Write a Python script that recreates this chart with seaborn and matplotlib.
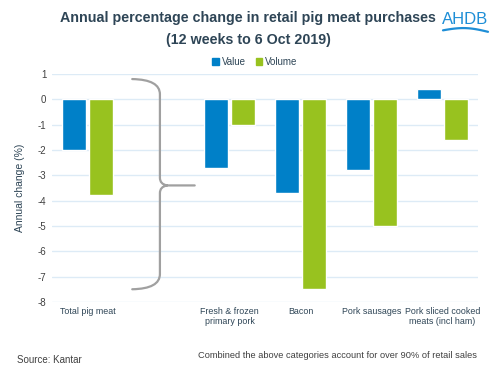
import numpy as np
import pandas as pd
import matplotlib
matplotlib.use("agg")
import matplotlib.pyplot as plt
from matplotlib.path import Path
from matplotlib.patches import PathPatch, Patch
import seaborn as sns

categories = ["Total pig meat", "Fresh & frozen\nprimary pork", "Bacon",
              "Pork sausages", "Pork sliced cooked\nmeats (incl ham)"]
value_change = [-2.0, -2.7, -3.68, -2.78, 0.42]
volume_change = [-3.78, -1.0, -7.5, -5.0, -1.6]
series = ["Value", "Volume"]
yticks = list(range(1, -9, -1))

BLUE = "#0080C8"
GREEN = "#98C21F"
DARK = "#2E4556"
GRID = "#DDEBF6"

df = pd.DataFrame({
    "category": categories * 2,
    "series": [series[0]] * len(categories) + [series[1]] * len(categories),
    "change": value_change + volume_change,
})

sns.set_theme(style="white")
plt.rcParams["font.family"] = ["Liberation Sans", "DejaVu Sans"]

fig = plt.figure(figsize=(5, 3.7), dpi=100)
ax = fig.add_axes([0.104, 0.184, 0.852, 0.616])

# spacer slot between total and the breakdown
order = [categories[0], " "] + categories[1:]
sns.barplot(data=df, x="category", y="change", hue="series", order=order,
            palette=[BLUE, GREEN], width=0.78, gap=0.14, ax=ax, legend=False,
            saturation=1)

ax.set_ylim(-8, 1)
ax.set_xlim(-0.5, len(order) - 0.5)
ax.set_yticks(yticks)
ax.set_yticklabels([str(t) for t in yticks], fontsize=7, color="#404040")
ax.set_xticks(range(len(order)))
ax.set_xticklabels(order, fontsize=6.4, color=DARK, linespacing=1.1)
ax.tick_params(axis="both", length=0, pad=4)
ax.grid(axis="y", color=GRID, linewidth=1)
ax.set_axisbelow(True)
for s in ax.spines.values():
    s.set_visible(False)
ax.set_xlabel("")
ax.set_ylabel("Annual change (%)", fontsize=7.5, color=DARK, labelpad=9)

# curly brace
x0, x1, x2 = 0.63, 1.02, 1.51
top, mid, bot = 0.8, -3.4, -7.5
verts = [(x0, top), (x1, top - 0.02), (x1, top - 0.6),
         (x1, mid + 0.3), (x1, mid + 0.05), (x1 + 0.1, mid), (x2, mid),
         (x1 + 0.1, mid), (x1, mid - 0.05), (x1, mid - 0.3),
         (x1, bot + 0.6), (x1, bot + 0.02), (x0, bot)]
codes = [Path.MOVETO, Path.CURVE3, Path.CURVE3,
         Path.LINETO, Path.CURVE3, Path.CURVE3, Path.LINETO,
         Path.MOVETO, Path.CURVE3, Path.CURVE3,
         Path.LINETO, Path.CURVE3, Path.CURVE3]
ax.add_patch(PathPatch(Path(verts, codes), fill=False, edgecolor="#A0A0A0",
                       linewidth=1.6, capstyle="round", joinstyle="round"))

# legend
handles = [Patch(color=BLUE, label=series[0]), Patch(color=GREEN, label=series[1])]
fig.legend(handles=handles, loc="center", bbox_to_anchor=(0.51, 0.832), ncol=2,
           frameon=False, fontsize=7, handlelength=0.7, handleheight=0.7,
           handletextpad=0.3, columnspacing=1.0, labelcolor=DARK)

fig.text(0.495, 0.952, "Annual percentage change in retail pig meat purchases",
         ha="center", va="center", fontsize=10.3, fontweight="bold", color=DARK)
fig.text(0.497, 0.893, "(12 weeks to 6 Oct 2019)",
         ha="center", va="center", fontsize=10.3, fontweight="bold", color=DARK)

# AHDB mark
fig.text(0.93, 0.948, "AHDB", ha="center", va="center", fontsize=12,
         color="#1E8ED6")
t = np.linspace(0, 1, 50)
fig.lines.append(plt.Line2D(0.886 + 0.09 * t, 0.918 + 0.008 * np.sin(np.pi * t) - 0.004 * t,
                            transform=fig.transFigure, color="#1E8ED6", linewidth=1.6))

fig.text(0.034, 0.027, "Source: Kantar", fontsize=7, color="#404040",
         ha="left", va="center")
fig.text(0.955, 0.038, "Combined the above categories account for over 90% of retail sales",
         fontsize=6.7, color="#404040", ha="right", va="center")

fig.savefig("out.png", dpi=100)
